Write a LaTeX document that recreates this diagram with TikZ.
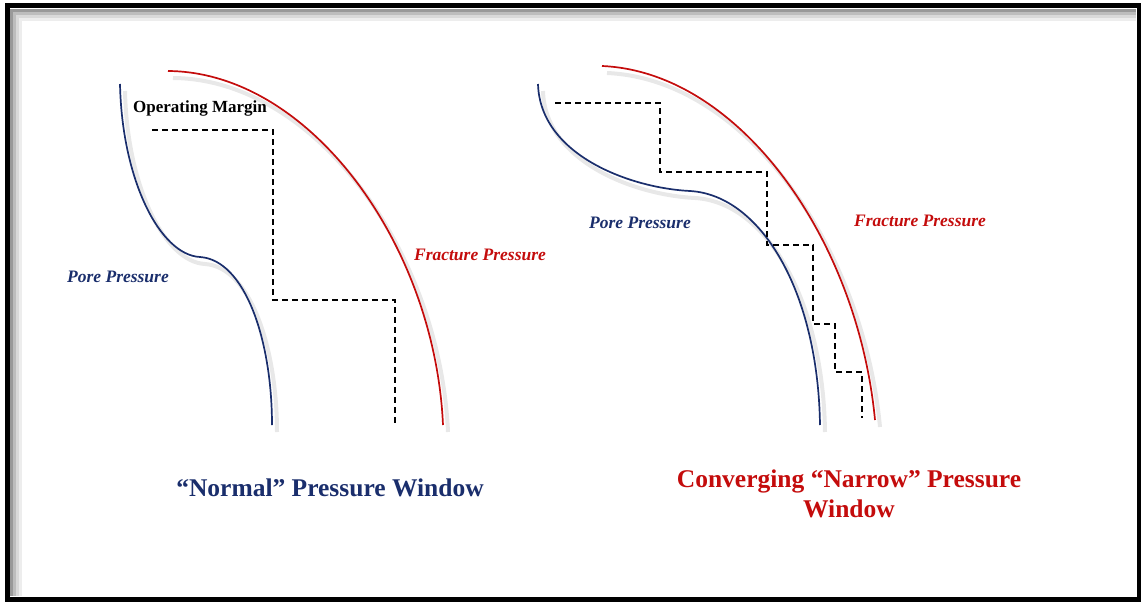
\documentclass[tikz,border=0pt]{standalone}
\usepackage{fontspec}
\setmainfont{Liberation Serif}
\definecolor{porecol}{RGB}{26,46,108}
\definecolor{fraccol}{RGB}{196,12,12}

\begin{document}
\begin{tikzpicture}[x=1pt, y=-1pt,
  porecurve/.style={porecol, line width=1.7pt},
  fraccurve/.style={fraccol, line width=1.7pt},
  curveshade/.style={black!9, line width=4pt, shift={(5,7)}},
  margin/.style={line width=1.5pt, dash pattern=on 6pt off 4pt},
  label/.style={font=\fontsize{17.5}{20}\selectfont\bfseries\itshape},
  title/.style={font=\fontsize{25.5}{30}\selectfont\bfseries, align=center}]

\useasboundingbox (0,0) rectangle (1141,602);

% frame with inner shadow
\foreach \d/\c in {11/40, 14/26, 17/15, 20/7}
  \draw[black!\c, line width=3pt] (\d,596) |- (1136,\d);
\draw[line width=5pt] (7.5,5.5) rectangle (1139.5,599.5);

% left window
\foreach \s in {curveshade, porecurve}
  \draw[\s] (120,84) .. controls (122,180) and (160,255) .. (200,257)
    .. controls (245,260) and (272,340) .. (272,425);
\foreach \s in {curveshade, fraccurve}
  \draw[\s] (168,71) .. controls (310,72) and (435,245) .. (443,425);
\draw[margin] (152,130) -| (273,300) -| (395,425);

\node[font=\fontsize{17}{20}\selectfont\bfseries] (margin) at (200,108) {Operating Margin};
\node[label, porecol] (pore1) at (118,277) {Pore Pressure};
\node[label, fraccol] (frac1) at (480,255) {Fracture Pressure};
\node[title, porecol] (title1) at (330,488) {“Normal” Pressure Window};

% right window
\foreach \s in {curveshade, porecurve}
  \draw[\s] (538,84) .. controls (540,155) and (630,188) .. (690,191)
    .. controls (760,195) and (818,290) .. (820,425);
\foreach \s in {curveshade, fraccurve}
  \draw[\s] (602,66) .. controls (740,72) and (858,240) .. (875,420);
\draw[margin] (555,103) -| (660,172) -| (767,245) -| (813,324) -| (835,372) -| (862,418);

\node[label, porecol] (pore2) at (640,223) {Pore Pressure};
\node[label, fraccol] (frac2) at (920,221) {Fracture Pressure};
\node[title, fraccol] (title2) at (849,494) {Converging “Narrow” Pressure\\Window};

\end{tikzpicture}
\end{document}
